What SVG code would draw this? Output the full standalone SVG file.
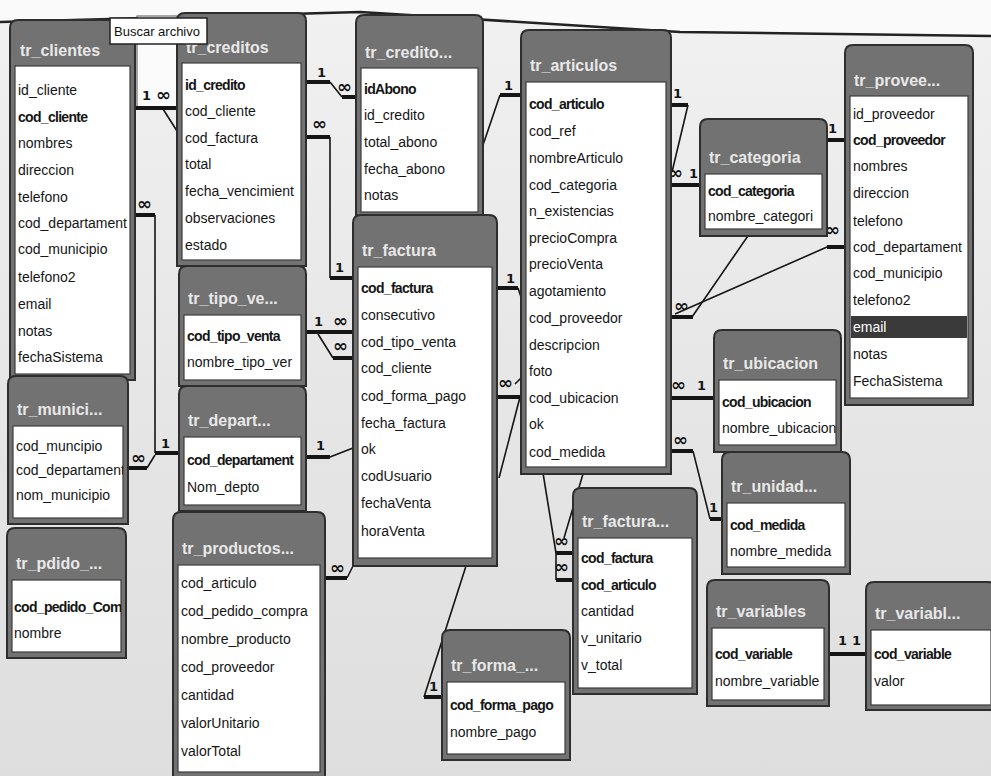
<svg xmlns="http://www.w3.org/2000/svg" width="991" height="776" viewBox="0 0 991 776">
<defs>
<linearGradient id="bg" x1="0" y1="0" x2="0" y2="1">
<stop offset="0" stop-color="#f1f1f1"/>
<stop offset="0.5" stop-color="#e6e6e6"/>
<stop offset="1" stop-color="#dedede"/>
</linearGradient>
<clipPath id="cMun"><rect x="5" y="50" width="110" height="92"/></clipPath>
<clipPath id="cPed"><rect x="5" y="52" width="109" height="72"/></clipPath>
<clipPath id="cUbi"><rect x="5" y="50" width="117" height="65"/></clipPath>
<style>
.fr{fill:#727272;stroke:#2e2e2e;stroke-width:2}
.bx{fill:#fff;stroke:#3c3c3c;stroke-width:1.2}
.tt{font-family:"Liberation Sans",Arial,sans-serif;font-weight:bold;font-size:16px;fill:#e8e8e8}
.f{font-family:"Liberation Sans",Arial,sans-serif;font-size:14px;fill:#151515}
.pk{font-weight:bold;letter-spacing:-0.7px}
.ln{stroke:#151515;stroke-width:1.6;fill:none}
.tk{stroke:#151515;stroke-width:4;fill:none}
.lb{font-family:"DejaVu Sans",sans-serif;font-weight:bold;font-size:13px;fill:#151515}
.in{font-family:"DejaVu Sans",sans-serif;font-weight:bold;font-size:18px;fill:#151515}
</style>
</defs>
<rect width="991" height="776" fill="url(#bg)"/>
<path d="M0,0 H991 V36 L680,32 L360,12 L0,22 Z" fill="#fafafa"/>
<path d="M0,22 L360,12 L680,32 L991,36" fill="none" stroke="#222" stroke-width="2.5"/>
<rect x="137" y="16" width="40" height="92" fill="#fbfbfb" stroke="#555" stroke-width="1"/>

<g id="connectors">
<path class="tk" d="M135,108 H178"/>
<path class="ln" d="M163,109 L177,131"/>
<text class="lb" x="142" y="100">1</text><text class="in" x="156" y="101">∞</text>
<path class="tk" d="M135,215 H155"/>
<path class="ln" d="M155,215 V453"/>
<path class="tk" d="M155,453 H179"/>
<text class="in" x="137" y="210">∞</text><text class="lb" x="161" y="448">1</text>
<path class="tk" d="M128,468 H147"/>
<path class="ln" d="M147,468 L155,455"/>
<text class="in" x="131" y="464">∞</text>
<path class="tk" d="M306,82 H330"/>
<path class="ln" d="M330,82 L342,97"/>
<path class="tk" d="M342,97 H356"/>
<text class="lb" x="317" y="77">1</text><text class="in" x="337" y="93">∞</text>
<path class="tk" d="M306,137 H330"/>
<path class="ln" d="M330,137 V278"/>
<path class="tk" d="M330,278 H353"/>
<text class="in" x="312" y="130">∞</text><text class="lb" x="335" y="272">1</text>
<path class="tk" d="M306,332 H353"/>
<path class="ln" d="M318,334 L333,358"/>
<path class="tk" d="M333,358 H353"/>
<text class="lb" x="314" y="326">1</text><text class="in" x="333" y="327">∞</text><text class="in" x="333" y="352">∞</text>
<path class="tk" d="M306,457 H330"/>
<path class="ln" d="M330,457 L353,448"/>
<text class="lb" x="316" y="450">1</text>
<path class="tk" d="M325,578 H347"/>
<path class="ln" d="M347,578 L355,562"/>
<text class="in" x="330" y="574">∞</text>
<path class="ln" d="M466,566 L424,697"/>
<path class="tk" d="M424,697 H442"/>
<text class="lb" x="429" y="691">1</text>
<path class="tk" d="M497,288 H518"/>
<path class="ln" d="M518,288 L524,306"/>
<text class="lb" x="506" y="283">1</text>
<path class="ln" d="M515,384 L522,377"/>
<path class="tk" d="M497,397 H520"/>
<path class="ln" d="M520,397 L499,478"/>
<text class="in" x="498" y="389">∞</text>
<path class="tk" d="M500,95 H521"/>
<path class="ln" d="M500,95 L483,145"/>
<text class="lb" x="504" y="90">1</text>
<path class="tk" d="M671,105 H688"/>
<path class="ln" d="M688,105 L672,172"/>
<text class="lb" x="673" y="98">1</text>
<path class="tk" d="M671,185 H700"/>
<text class="in" x="668" y="179">∞</text><text class="lb" x="689" y="178">1</text>
<path class="tk" d="M827,140 H845"/>
<text class="lb" x="828" y="133">1</text>
<path class="tk" d="M827,247 H845"/>
<path class="ln" d="M827,247 L675,314"/>
<text class="in" x="825" y="236">∞</text>
<path class="ln" d="M752,230 L692,317"/>
<path class="tk" d="M671,317 H693"/>
<text class="in" x="674" y="312">∞</text>
<path class="tk" d="M671,398 H714"/>
<text class="in" x="671" y="391">∞</text><text class="lb" x="697" y="390">1</text>
<path class="tk" d="M671,451 H693"/>
<path class="ln" d="M693,451 L710,519"/>
<path class="tk" d="M710,519 H722"/>
<text class="in" x="673" y="446">∞</text><text class="lb" x="709" y="512">1</text>
<path class="ln" d="M543,473 L556,553"/>
<path class="ln" d="M583,474 L564,538"/>
<path class="tk" d="M556,553 H573"/>
<path class="ln" d="M556,553 V580"/>
<path class="tk" d="M556,580 H573"/>
<text class="in" x="554" y="547">∞</text><text class="in" x="554" y="573">∞</text>
<path class="tk" d="M829,654 H866"/>
<text class="lb" x="838" y="645">1</text><text class="lb" x="852" y="645">1</text>
</g>

<g id="tr_clientes" transform="translate(10,20)">
<path class="fr" d="M0,360 V8 Q0,0 8,0 H117 Q125,0 125,8 V360 Z"/>
<rect class="bx" x="5" y="46" width="115" height="308"/>
<text class="tt" x="10" y="36">tr_clientes</text>
<text class="f" x="8" y="75">id_cliente</text>
<text class="f pk" x="8" y="102">cod_cliente</text>
<text class="f" x="8" y="128">nombres</text>
<text class="f" x="8" y="155">direccion</text>
<text class="f" x="8" y="182">telefono</text>
<text class="f" x="8" y="208">cod_departament</text>
<text class="f" x="8" y="234">cod_municipio</text>
<text class="f" x="8" y="262">telefono2</text>
<text class="f" x="8" y="289">email</text>
<text class="f" x="8" y="316">notas</text>
<text class="f" x="8" y="342">fechaSistema</text>
</g>

<g id="tr_creditos" transform="translate(177,13)">
<path class="fr" d="M0,253 V8 Q0,0 8,0 H121 Q129,0 129,8 V253 Z"/>
<rect class="bx" x="5" y="50" width="119" height="197"/>
<text class="tt" x="9" y="40">tr_creditos</text>
<text class="f pk" x="8" y="77">id_credito</text>
<text class="f" x="8" y="103">cod_cliente</text>
<text class="f" x="8" y="130">cod_factura</text>
<text class="f" x="8" y="156">total</text>
<text class="f" x="8" y="183">fecha_vencimient</text>
<text class="f" x="8" y="210">observaciones</text>
<text class="f" x="8" y="237">estado</text>
</g>

<g id="tr_abonos" transform="translate(356,15)">
<path class="fr" d="M0,203 V8 Q0,0 8,0 H119 Q127,0 127,8 V203 Z"/>
<rect class="bx" x="5" y="53" width="117" height="144"/>
<text class="tt" x="9" y="43">tr_credito...</text>
<text class="f pk" x="8" y="79">idAbono</text>
<text class="f" x="8" y="105">id_credito</text>
<text class="f" x="8" y="132">total_abono</text>
<text class="f" x="8" y="159">fecha_abono</text>
<text class="f" x="8" y="185">notas</text>
</g>

<g id="tr_articulos" transform="translate(521,30)">
<path class="fr" d="M0,444 V8 Q0,0 8,0 H142 Q150,0 150,8 V444 Z"/>
<rect class="bx" x="5" y="52" width="140" height="385"/>
<text class="tt" x="9" y="41">tr_articulos</text>
<text class="f pk" x="8" y="79">cod_articulo</text>
<text class="f" x="8" y="106">cod_ref</text>
<text class="f" x="8" y="133">nombreArticulo</text>
<text class="f" x="8" y="160">cod_categoria</text>
<text class="f" x="8" y="186">n_existencias</text>
<text class="f" x="8" y="213">precioCompra</text>
<text class="f" x="8" y="239">precioVenta</text>
<text class="f" x="8" y="266">agotamiento</text>
<text class="f" x="8" y="293">cod_proveedor</text>
<text class="f" x="8" y="320">descripcion</text>
<text class="f" x="8" y="346">foto</text>
<text class="f" x="8" y="373">cod_ubicacion</text>
<text class="f" x="8" y="399">ok</text>
<text class="f" x="8" y="427">cod_medida</text>
</g>

<g id="tr_proveedores" transform="translate(845,45)">
<path class="fr" d="M0,360 V8 Q0,0 8,0 H120 Q128,0 128,8 V360 Z"/>
<rect class="bx" x="5" y="51" width="118" height="302"/>
<rect x="6" y="271" width="116" height="22" fill="#3a3a3a"/>
<text class="tt" x="9" y="41">tr_provee...</text>
<text class="f" x="8" y="74">id_proveedor</text>
<text class="f pk" x="8" y="100">cod_proveedor</text>
<text class="f" x="8" y="126">nombres</text>
<text class="f" x="8" y="153">direccion</text>
<text class="f" x="8" y="181">telefono</text>
<text class="f" x="8" y="207">cod_departament</text>
<text class="f" x="8" y="233">cod_municipio</text>
<text class="f" x="8" y="260">telefono2</text>
<text class="f" x="8" y="287" style="fill:#fff">email</text>
<text class="f" x="8" y="314">notas</text>
<text class="f" x="8" y="341">FechaSistema</text>
</g>

<g id="tr_categoria" transform="translate(700,119)">
<path class="fr" d="M0,117 V8 Q0,0 8,0 H119 Q127,0 127,8 V117 Z"/>
<rect class="bx" x="5" y="55" width="117" height="55"/>
<text class="tt" x="9" y="44">tr_categoria</text>
<text class="f pk" x="8" y="77">cod_categoria</text>
<text class="f" x="8" y="102">nombre_categori</text>
</g>

<g id="tr_ubicacion" transform="translate(714,330)">
<path class="fr" d="M0,122 V8 Q0,0 8,0 H119 Q127,0 127,8 V122 Z"/>
<rect class="bx" x="5" y="50" width="117" height="65"/>
<text class="tt" x="9" y="39">tr_ubicacion</text>
<g clip-path="url(#cUbi)">
<text class="f pk" x="8" y="77">cod_ubicacion</text>
<text class="f" x="8" y="103">nombre_ubicacion</text>
</g>
</g>

<g id="tr_unidad" transform="translate(722,452)">
<path class="fr" d="M0,122 V8 Q0,0 8,0 H120 Q128,0 128,8 V122 Z"/>
<rect class="bx" x="5" y="51" width="118" height="64"/>
<text class="tt" x="9" y="40">tr_unidad...</text>
<text class="f pk" x="8" y="78">cod_medida</text>
<text class="f" x="8" y="104">nombre_medida</text>
</g>

<g id="tr_factura" transform="translate(353,215)">
<path class="fr" d="M0,351 V8 Q0,0 8,0 H136 Q144,0 144,8 V351 Z"/>
<rect class="bx" x="5" y="52" width="134" height="291"/>
<text class="tt" x="9" y="41">tr_factura</text>
<text class="f pk" x="8" y="78">cod_factura</text>
<text class="f" x="8" y="105">consecutivo</text>
<text class="f" x="8" y="132">cod_tipo_venta</text>
<text class="f" x="8" y="158">cod_cliente</text>
<text class="f" x="8" y="186">cod_forma_pago</text>
<text class="f" x="8" y="213">fecha_factura</text>
<text class="f" x="8" y="239">ok</text>
<text class="f" x="8" y="266">codUsuario</text>
<text class="f" x="8" y="293">fechaVenta</text>
<text class="f" x="8" y="321">horaVenta</text>
</g>

<g id="tr_tipo_venta" transform="translate(179,266)">
<path class="fr" d="M0,120 V8 Q0,0 8,0 H119 Q127,0 127,8 V120 Z"/>
<rect class="bx" x="5" y="49" width="117" height="65"/>
<text class="tt" x="9" y="38">tr_tipo_ve...</text>
<text class="f pk" x="8" y="75">cod_tipo_venta</text>
<text class="f" x="8" y="101">nombre_tipo_ver</text>
</g>

<g id="tr_departamentos" transform="translate(179,386)">
<path class="fr" d="M0,125 V8 Q0,0 8,0 H119 Q127,0 127,8 V125 Z"/>
<rect class="bx" x="5" y="51" width="117" height="68"/>
<text class="tt" x="9" y="40">tr_depart...</text>
<text class="f pk" x="8" y="79">cod_departament</text>
<text class="f" x="8" y="106">Nom_depto</text>
</g>

<g id="tr_municipios" transform="translate(8,376)">
<path class="fr" d="M0,148 V8 Q0,0 8,0 H112 Q120,0 120,8 V148 Z"/>
<rect class="bx" x="5" y="50" width="110" height="92"/>
<text class="tt" x="9" y="39">tr_munici...</text>
<g clip-path="url(#cMun)">
<text class="f" x="8" y="75">cod_muncipio</text>
<text class="f" x="8" y="99">cod_departament</text>
<text class="f" x="8" y="124">nom_municipio</text>
</g>
</g>

<g id="tr_pedido" transform="translate(7,528)">
<path class="fr" d="M0,130 V8 Q0,0 8,0 H111 Q119,0 119,8 V130 Z"/>
<rect class="bx" x="5" y="52" width="109" height="72"/>
<text class="tt" x="9" y="41">tr_pdido_...</text>
<g clip-path="url(#cPed)">
<text class="f pk" x="7" y="84">cod_pedido_Com</text>
<text class="f" x="7" y="110">nombre</text>
</g>
</g>

<g id="tr_productos" transform="translate(173,512)">
<path class="fr" d="M0,270 V8 Q0,0 8,0 H144 Q152,0 152,8 V270 Z"/>
<rect class="bx" x="5" y="53" width="142" height="207"/>
<text class="tt" x="9" y="42">tr_productos...</text>
<text class="f" x="8" y="76">cod_articulo</text>
<text class="f" x="8" y="104">cod_pedido_compra</text>
<text class="f" x="8" y="132">nombre_producto</text>
<text class="f" x="8" y="160">cod_proveedor</text>
<text class="f" x="8" y="188">cantidad</text>
<text class="f" x="8" y="216">valorUnitario</text>
<text class="f" x="8" y="244">valorTotal</text>
</g>

<g id="tr_factura_detalle" transform="translate(573,488)">
<path class="fr" d="M0,206 V8 Q0,0 8,0 H116 Q124,0 124,8 V206 Z"/>
<rect class="bx" x="5" y="50" width="114" height="150"/>
<text class="tt" x="9" y="39">tr_factura...</text>
<text class="f pk" x="8" y="75">cod_factura</text>
<text class="f pk" x="8" y="102">cod_articulo</text>
<text class="f" x="8" y="128">cantidad</text>
<text class="f" x="8" y="155">v_unitario</text>
<text class="f" x="8" y="182">v_total</text>
</g>

<g id="tr_forma_pago" transform="translate(442,630)">
<path class="fr" d="M0,130 V8 Q0,0 8,0 H120 Q128,0 128,8 V130 Z"/>
<rect class="bx" x="5" y="52" width="118" height="72"/>
<text class="tt" x="9" y="41">tr_forma_...</text>
<text class="f pk" x="8" y="80">cod_forma_pago</text>
<text class="f" x="8" y="107">nombre_pago</text>
</g>

<g id="tr_variables" transform="translate(707,580)">
<path class="fr" d="M0,126 V8 Q0,0 8,0 H114 Q122,0 122,8 V126 Z"/>
<rect class="bx" x="5" y="48" width="112" height="72"/>
<text class="tt" x="9" y="37">tr_variables</text>
<text class="f pk" x="8" y="79">cod_variable</text>
<text class="f" x="8" y="106">nombre_variable</text>
</g>

<g id="tr_variables_valor" transform="translate(866,582)">
<path class="fr" d="M0,128 V8 Q0,0 8,0 H122 Q130,0 130,8 V128 Z"/>
<rect class="bx" x="5" y="48" width="120" height="75"/>
<text class="tt" x="9" y="37">tr_variabl...</text>
<text class="f pk" x="8" y="77">cod_variable</text>
<text class="f" x="8" y="104">valor</text>
</g>

<g id="tooltip">
<rect x="110" y="18" width="97" height="26" fill="#fff" stroke="#222" stroke-width="1.5"/>
<text x="114" y="36" font-family="Liberation Sans, Arial, sans-serif" font-size="13" fill="#111">Buscar archivo</text>
</g>
</svg>
